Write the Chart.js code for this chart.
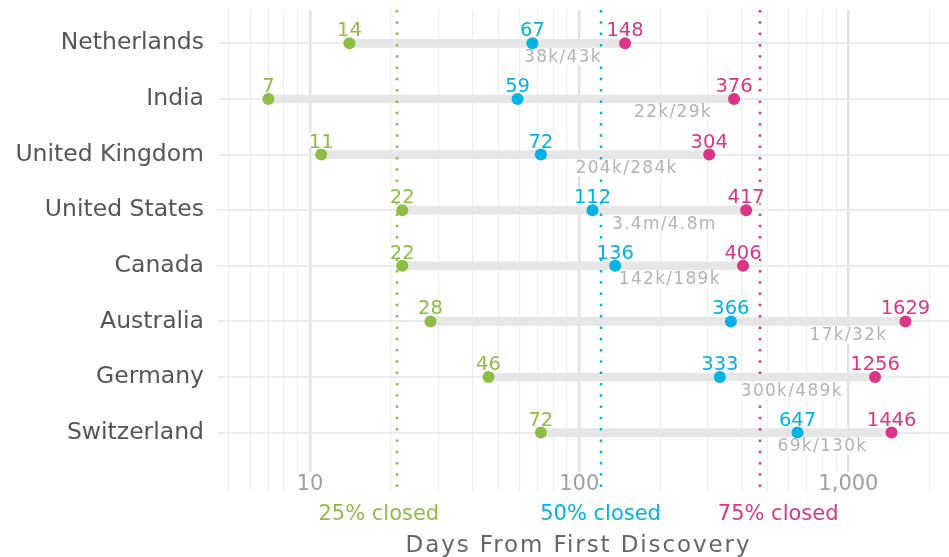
<!DOCTYPE html>
<html>
<head>
<meta charset="utf-8">
<script src="https://cdn.jsdelivr.net/npm/chart.js@4"></script>
<style>
  html, body { margin: 0; padding: 0; background: #fff; }
  #wrap { width: 949px; height: 557px; }
</style>
</head>
<body>
<div id="wrap"><canvas id="closeChart"></canvas></div>
<script>
// Données
const countries = ["Netherlands", "India", "United Kingdom", "United States", "Canada", "Australia", "Germany", "Switzerland"];
const closed25 = [14, 7, 11, 22, 22, 28, 46, 72];
const closed50 = [67, 59, 72, 112, 136, 366, 333, 647];
const closed75 = [148, 376, 304, 417, 406, 1629, 1256, 1446];
const counts = ["38k/43k", "22k/29k", "204k/284k", "3.4m/4.8m", "142k/189k", "17k/32k", "300k/489k", "69k/130k"];
const countsAt = [87, 223, 150, 207, 217, 1000, 616, 801];   // jours, où placer le texte des volumes
const overallLabels = ["25% closed", "50% closed", "75% closed"];
const overallDays = [21, 120, 470];
const xTickLabels = [10, 100, 1000];

const colors = ["#8cbd45", "#00b3e3", "#db3587"];
const family = "'DejaVu Sans', sans-serif";
Chart.defaults.font.family = family;

// lignes de grille : 1..9 x 10^n
const gridDays = [];
[1, 10, 100, 1000].forEach(base => {
    for (let m = 1; m <= 9; m++) gridDays.push(m * base);
});
const isMajor = c => !!c.tick && xTickLabels.includes(c.tick.value);

// Lignes pointillées, valeurs et textes
const overlay = {
    id: 'overlay',
    afterDatasetDraw(chart, args) {
        if (args.meta.type !== 'bar') return;
        const {ctx, chartArea: a, scales: {x}} = chart;
        ctx.save();
        ctx.lineWidth = 2.5;
        ctx.setLineDash([2.5, 8.8]);
        overallDays.forEach((d, k) => {
            const px = Math.round(x.getPixelForValue(d));
            ctx.strokeStyle = colors[k];
            ctx.beginPath();
            ctx.moveTo(px, a.top);
            ctx.lineTo(px, a.bottom);
            ctx.stroke();
        });
        ctx.restore();
    },
    afterDatasetsDraw(chart) {
        const {ctx, chartArea: a, scales: {x, y}} = chart;
        ctx.save();
        ctx.textAlign = 'center';
        ctx.textBaseline = 'alphabetic';

        // valeurs au-dessus des points
        ctx.font = `19.5px ${family}`;
        [closed25, closed50, closed75].forEach((vals, k) => {
            const meta = chart.getDatasetMeta(k + 1);
            meta.data.forEach((pt, i) => {
                const label = String(vals[i]);
                const w = ctx.measureText(label).width;
                ctx.fillStyle = '#fff';
                ctx.fillRect(pt.x - w / 2 - 1, pt.y - 22, w + 2, 15);
                ctx.fillStyle = colors[k];
                ctx.fillText(label, pt.x, pt.y - 7);
            });
        });

        // volumes sous chaque ligne
        ctx.font = `17px ${family}`;
        ctx.letterSpacing = '1.3px';
        counts.forEach((txt, i) => {
            const px = x.getPixelForValue(countsAt[i]);
            const py = y.getPixelForValue(i) + 18.5;
            const w = ctx.measureText(txt).width;
            ctx.fillStyle = '#fff';
            ctx.fillRect(px - w / 2 - 2, py - 12.5, w + 4, 16);
            ctx.fillStyle = '#b3b3b3';
            ctx.fillText(txt, px, py);
        });

        // étiquettes des lignes pointillées
        ctx.letterSpacing = '0px';
        ctx.font = `21px ${family}`;
        overallLabels.forEach((txt, k) => {
            ctx.fillStyle = colors[k];
            ctx.fillText(txt, x.getPixelForValue(overallDays[k]) + (k - 1) * 18, a.bottom + 29);
        });

        // titre de l'axe
        ctx.font = `23px ${family}`;
        ctx.letterSpacing = '1.9px';
        ctx.fillStyle = '#666';
        ctx.fillText('Days From First Discovery', (a.left + a.right) / 2 - 5, a.bottom + 61);
        ctx.restore();
    }
};

const ctx = document.getElementById('closeChart').getContext('2d');
const closeChart = new Chart(ctx, {
    type: 'bar',
    data: {
        datasets: [
            {
                type: 'bar',
                indexAxis: 'y',
                data: countries.map((c, i) => ({y: i, x: [closed25[i], closed75[i]]})),
                backgroundColor: '#e6e6e6',
                barThickness: 8,
                grouped: false,
                order: 4
            },
            {
                type: 'scatter',
                data: countries.map((c, i) => ({x: closed25[i], y: i})),
                backgroundColor: colors[0],
                pointRadius: 6,
                pointBorderWidth: 0,
                order: 1
            },
            {
                type: 'scatter',
                data: countries.map((c, i) => ({x: closed50[i], y: i})),
                backgroundColor: colors[1],
                pointRadius: 6,
                pointBorderWidth: 0,
                order: 2
            },
            {
                type: 'scatter',
                data: countries.map((c, i) => ({x: closed75[i], y: i})),
                backgroundColor: colors[2],
                pointRadius: 6,
                pointBorderWidth: 0,
                order: 3
            }
        ]
    },
    options: {
        responsive: true,
        maintainAspectRatio: false,
        devicePixelRatio: 1,
        animation: false,
        events: [],
        layout: { autoPadding: false, padding: { top: 10, left: 0, right: 0, bottom: 0 } },
        plugins: {
            legend: { display: false },
            tooltip: { enabled: false }
        },
        scales: {
            x: {
                type: 'logarithmic',
                position: 'bottom',
                offset: false,
                min: 4.55,
                max: 2364,
                afterBuildTicks: s => {
                    s.ticks = gridDays.filter(v => v >= s.min && v <= s.max)
                        .map(v => ({value: v, major: xTickLabels.includes(v)}));
                },
                afterFit: s => {
                    s.height = 66;
                    s.paddingLeft = 0;
                    s.paddingRight = 0;
                },
                ticks: {
                    autoSkip: false,
                    maxRotation: 0,
                    mirror: true,
                    padding: -6,
                    color: '#a0a0a0',
                    font: { size: 21 },
                    callback: v => xTickLabels.includes(v) ? v.toLocaleString('en-US') : '',
                    showLabelBackdrop: isMajor,
                    backdropColor: '#fff',
                    backdropPadding: 0
                },
                grid: {
                    offset: false,
                    drawTicks: false,
                    color: c => isMajor(c) ? '#e2e2e2' : '#eeeeee',
                    lineWidth: c => isMajor(c) ? 2.5 : 1.2
                },
                border: { display: false }
            },
            y: {
                type: 'linear',
                reverse: true,
                offset: false,
                min: -0.6,
                max: 8.05,
                afterBuildTicks: s => { s.ticks = countries.map((c, i) => ({value: i})); },
                afterFit: s => {
                    s.width = 218;
                    s.paddingTop = 0;
                    s.paddingBottom = 0;
                },
                ticks: {
                    autoSkip: false,
                    padding: 14,
                    color: '#555',
                    font: { size: 23.5 },
                    callback: v => countries[v]
                },
                grid: { offset: false, drawTicks: false, color: '#ebebeb', lineWidth: 2 },
                border: { display: false }
            }
        }
    },
    plugins: [overlay]
});
</script>
</body>
</html>
